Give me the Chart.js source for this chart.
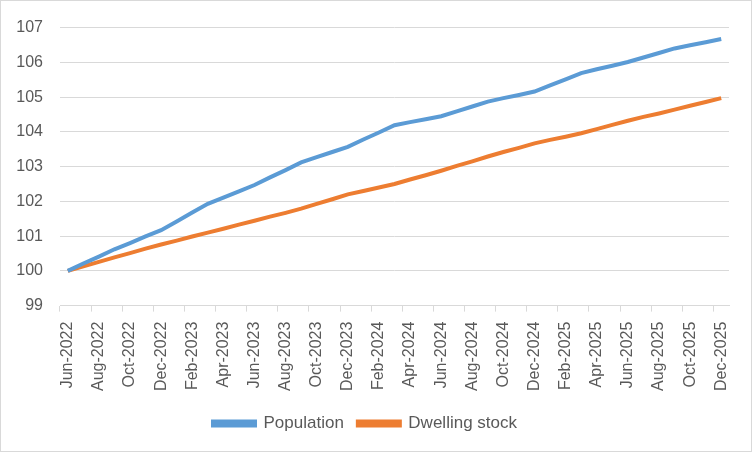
<!DOCTYPE html>
<html>
<head>
<meta charset="utf-8">
<script src="https://cdn.jsdelivr.net/npm/chart.js@4.4.0/dist/chart.umd.min.js"></script>
<style>
  html, body { margin: 0; padding: 0; background: #fff; }
  .wrap { width: 752px; height: 452px; box-sizing: border-box; border: 1px solid #d9d9d9; }
  canvas { display: block; }
</style>
</head>
<body>
<div class="wrap"><canvas id="myChart" width="750" height="450"></canvas></div>
<script>
// months Jun-2022 .. Dec-2025
const months = [
  'Jun-2022','Jul-2022','Aug-2022','Sep-2022','Oct-2022','Nov-2022','Dec-2022',
  'Jan-2023','Feb-2023','Mar-2023','Apr-2023','May-2023','Jun-2023','Jul-2023',
  'Aug-2023','Sep-2023','Oct-2023','Nov-2023','Dec-2023','Jan-2024','Feb-2024',
  'Mar-2024','Apr-2024','May-2024','Jun-2024','Jul-2024','Aug-2024','Sep-2024',
  'Oct-2024','Nov-2024','Dec-2024','Jan-2025','Feb-2025','Mar-2025','Apr-2025',
  'May-2025','Jun-2025','Jul-2025','Aug-2025','Sep-2025','Oct-2025','Nov-2025',
  'Dec-2025'
]

const population = [
  100.00, 100.21, 100.41, 100.62, 100.80, 100.99, 101.17,
  101.42, 101.68, 101.93, 102.11, 102.29, 102.47, 102.69,
  102.90, 103.12, 103.27, 103.42, 103.57, 103.78, 103.98,
  104.19, 104.28, 104.36, 104.45, 104.59, 104.73, 104.87,
  104.97, 105.06, 105.16, 105.34, 105.51, 105.69, 105.80,
  105.90, 106.01, 106.14, 106.27, 106.40, 106.49, 106.58,
  106.67
]

const dwellingStock = [
  100.00, 100.13, 100.26, 100.39, 100.51, 100.64, 100.76,
  100.87, 100.99, 101.10, 101.21, 101.33, 101.44, 101.56,
  101.67, 101.79, 101.93, 102.06, 102.20, 102.30, 102.40,
  102.50, 102.63, 102.75, 102.88, 103.02, 103.15, 103.29,
  103.42, 103.54, 103.67, 103.77, 103.86, 103.96, 104.08,
  104.20, 104.32, 104.43, 104.53, 104.64, 104.75, 104.86,
  104.97
]

const yMin = 99
const yMax = 107

const gridColor = '#d9d9d9'
const textColor = '#595959'

let chart = document.querySelector('#myChart')

let myChart = new Chart(chart, {
  type: 'line',
  data: {
    labels: months,
    datasets: [
      {
        label: 'Population',
        data: population,
        borderColor: '#5b9bd5',
        backgroundColor: '#5b9bd5',
        borderWidth: 4,
        pointRadius: 0,
        fill: false,
        tension: 0
      },
      {
        label: 'Dwelling stock',
        data: dwellingStock,
        borderColor: '#ed7d31',
        backgroundColor: '#ed7d31',
        borderWidth: 4,
        pointRadius: 0,
        fill: false,
        tension: 0
      }
    ]
  },
  options: {
    responsive: false,
    animation: false,
    layout: {
      padding: { left: 0, right: 22, top: 5, bottom: 9 }
    },
    plugins: {
      legend: {
        position: 'bottom',
        labels: {
          boxWidth: 42,
          boxHeight: 4,
          padding: 14,
          color: textColor,
          font: { family: 'Liberation Sans', size: 17 }
        }
      },
      tooltip: { enabled: false }
    },
    scales: {
      x: {
        offset: true,
        border: { color: gridColor },
        afterFit: (scale) => { scale.paddingLeft = 0; scale.paddingRight = 0 },
        grid: {
          offset: true,
          drawOnChartArea: false,
          tickLength: 6,
          color: (ctx) => ctx.index % 2 === 0 ? gridColor : 'rgba(0,0,0,0)'
        },
        ticks: {
          autoSkip: false,
          maxRotation: 90,
          minRotation: 90,
          padding: 10,
          color: textColor,
          font: { family: 'Liberation Sans', size: 16 },
          callback: function (value, index) {
            return index % 2 === 0 ? this.getLabelForValue(value) : ''
          }
        }
      },
      y: {
        min: yMin,
        max: yMax,
        afterFit: (scale) => { scale.width = 59 },
        border: { display: false },
        grid: { color: gridColor, drawTicks: false },
        ticks: {
          stepSize: 1,
          padding: 17,
          color: textColor,
          font: { family: 'Liberation Sans', size: 16 }
        }
      }
    }
  }
})
</script>
</body>
</html>
